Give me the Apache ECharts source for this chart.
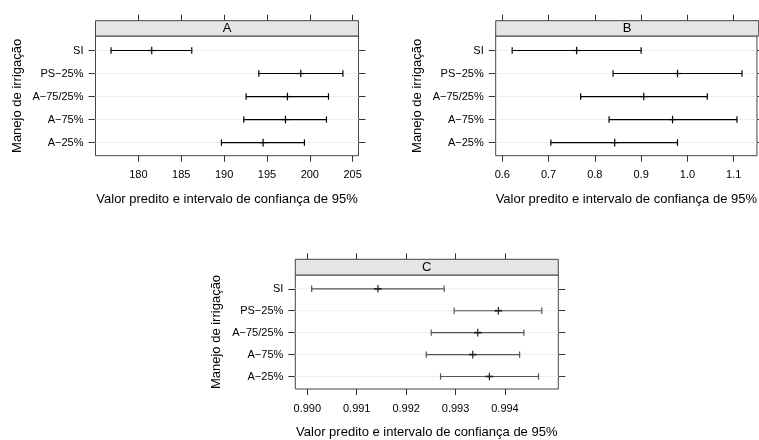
<!DOCTYPE html>
<html><head><meta charset="utf-8">
<script src="https://cdn.jsdelivr.net/npm/echarts@6/dist/echarts.min.js"></script>
<style>html,body{margin:0;padding:0;background:#fff}#c{width:759px;height:440px}</style>
</head><body><div id="c"></div>
<script>
// ---- data ----
const categories = ["A\u221225%", "A\u221275%", "A\u221275/25%", "PS\u221225%", "SI"]; // bottom to top
const catPos = [1, 2, 3, 4, 5];
const panelNames = ["A", "B", "C"];

const lowerA = [189.69, 192.30, 192.57, 194.05, 176.81];
const midA   = [194.55, 197.16, 197.39, 198.95, 181.56];
const upperA = [199.37, 201.94, 202.18, 203.86, 186.23];

const lowerB = [0.705, 0.8307, 0.7693, 0.8393, 0.6214];
const midB   = [0.8429, 0.9679, 0.9057, 0.9786, 0.7607];
const upperB = [0.9786, 1.1071, 1.0429, 1.1179, 0.9000];

const lowerC = [0.992696, 0.992407, 0.992508, 0.992971, 0.990088];
const midC   = [0.993684, 0.993348, 0.993449, 0.993866, 0.991429];
const upperC = [0.994679, 0.994296, 0.994383, 0.994746, 0.992770];

const ticksA = [180, 185, 190, 195, 200, 205];
const ticksB = [0.6, 0.7, 0.8, 0.9, 1.0, 1.1];
const ticksC = [0.990, 0.991, 0.992, 0.993, 0.994];
const tickLabelsA = ["180", "185", "190", "195", "200", "205"];
const tickLabelsB = ["0.6", "0.7", "0.8", "0.9", "1.0", "1.1"];
const tickLabelsC = ["0.990", "0.991", "0.992", "0.993", "0.994"];

const rangeA = [175.0, 205.68];
const rangeB = [0.5858, 1.1502];
const rangeC = [0.989757, 0.995079];
const rangeY = [0.43, 5.63];

const xTitle = "Valor predito e intervalo de confian\u00e7a de 95%";
const yTitle = "Manejo de irriga\u00e7\u00e3o";

// ---- layout ----
const FONT = '"Liberation Sans", Arial, Helvetica, sans-serif';
const panels = [
  {left: 95.5, top: 36, width: 263, height: 119.7, strip: 15.3, lo: lowerA, mi: midA, hi: upperA, ticks: ticksA, labels: tickLabelsA, range: rangeA, line: '#000', mid: '#000', midW: 1.2},
  {left: 495.7, top: 36, width: 263, height: 119.7, strip: 15.3, lo: lowerB, mi: midB, hi: upperB, ticks: ticksB, labels: tickLabelsB, range: rangeB, line: '#000', mid: '#000', midW: 1.2},
  {left: 295.3, top: 275, width: 263, height: 119.3, strip: 15.7, lo: lowerC, mi: midC, hi: upperC, ticks: ticksC, labels: tickLabelsC, range: rangeC, line: '#555', mid: '#222', midW: 1.7}
];

const chart = echarts.init(document.getElementById('c'), null, {renderer: 'canvas'});
const grid = [], xAxis = [], yAxis = [], series = [], graphic = [];

panels.forEach((p, i) => {
  grid.push({left: p.left, top: p.top, width: p.width, height: p.height, show: true,
    borderColor: '#444', borderWidth: 1, backgroundColor: '#fff', containLabel: false});
  const labelMap = {};
  p.ticks.forEach((t, k) => labelMap[t.toFixed(4)] = p.labels[k]);
  // bottom x axis
  xAxis.push({type: 'value', gridIndex: i, position: 'bottom', min: p.range[0], max: p.range[1],
    axisLine: {show: false}, splitLine: {show: false},
    axisTick: {show: true, inside: false, length: 6, customValues: p.ticks, lineStyle: {color: '#333'}},
    axisLabel: {show: true, margin: 14, customValues: p.ticks, color: '#000', fontSize: 11, fontFamily: FONT,
      formatter: v => labelMap[Number(v).toFixed(4)] ?? String(v)},
    name: xTitle, nameLocation: 'middle', nameGap: 37,
    nameTextStyle: {fontSize: 13, color: '#000', fontFamily: FONT}});
  // top x axis (ticks only, above strip)
  xAxis.push({type: 'value', gridIndex: i, position: 'top', offset: p.strip, min: p.range[0], max: p.range[1],
    axisLine: {show: false}, splitLine: {show: false},
    axisTick: {show: true, inside: false, length: 6, customValues: p.ticks, lineStyle: {color: '#333'}},
    axisLabel: {show: false}});
  // left y axis
  yAxis.push({type: 'value', gridIndex: i, position: 'left', min: rangeY[0], max: rangeY[1],
    axisLine: {show: false}, splitLine: {show: false},
    axisTick: {show: true, inside: false, length: 7, customValues: catPos, lineStyle: {color: '#333'}},
    axisLabel: {show: true, margin: 12, customValues: catPos, color: '#000', fontSize: 11, fontFamily: FONT,
      formatter: v => categories[Math.round(v) - 1]},
    name: yTitle, nameLocation: 'middle', nameGap: 72, nameRotate: 90,
    nameTextStyle: {fontSize: 13, color: '#000', fontFamily: FONT}});
  // right y axis (ticks only)
  yAxis.push({type: 'value', gridIndex: i, position: 'right', min: rangeY[0], max: rangeY[1],
    axisLine: {show: false}, splitLine: {show: false},
    axisTick: {show: true, inside: false, length: 7, customValues: catPos, lineStyle: {color: '#333'}},
    axisLabel: {show: false}});

  const data = catPos.map((c, k) => [c, p.lo[k], p.mi[k], p.hi[k]]);
  series.push({type: 'custom', xAxisIndex: i * 2, yAxisIndex: i * 2, data: data,
    encode: {x: [1, 2, 3], y: 0},
    renderItem: (params, api) => {
      const cs = params.coordSys;
      const lo = api.coord([api.value(1), api.value(0)]);
      const mi = api.coord([api.value(2), api.value(0)]);
      const hi = api.coord([api.value(3), api.value(0)]);
      const y = lo[1];
      const cap = 3.2;
      const ls = {stroke: p.line, lineWidth: 1.2};
      return {type: 'group', children: [
        {type: 'line', shape: {x1: cs.x, y1: y, x2: cs.x + cs.width, y2: y}, style: {stroke: '#eeeeee', lineWidth: 1}, z2: 0},
        {type: 'line', shape: {x1: lo[0], y1: y, x2: hi[0], y2: y}, style: ls, z2: 1},
        {type: 'line', shape: {x1: lo[0], y1: y - cap, x2: lo[0], y2: y + cap}, style: ls, z2: 1},
        {type: 'line', shape: {x1: hi[0], y1: y - cap, x2: hi[0], y2: y + cap}, style: ls, z2: 1},
        {type: 'line', shape: {x1: mi[0], y1: y - 3.8, x2: mi[0], y2: y + 3.8}, style: {stroke: p.mid, lineWidth: 1.2}, z2: 2},
        {type: 'line', shape: {x1: mi[0] - 3.8, y1: y, x2: mi[0] + 3.8, y2: y}, style: {stroke: p.mid, lineWidth: p.midW}, z2: 2}
      ]};
    }});

  // strip
  graphic.push({type: 'rect', shape: {x: p.left, y: p.top - p.strip, width: p.width, height: p.strip},
    style: {fill: '#e5e5e5', stroke: '#444', lineWidth: 1}, z: 10});
  graphic.push({type: 'text', x: p.left + p.width / 2, y: p.top - p.strip / 2 + 0.5,
    style: {text: panelNames[i], fill: '#000', font: '13px ' + FONT, align: 'center', verticalAlign: 'middle'}, z: 11});
});

chart.setOption({animation: false, backgroundColor: '#fff', grid, xAxis, yAxis, series, graphic});
</script>
</body></html>
